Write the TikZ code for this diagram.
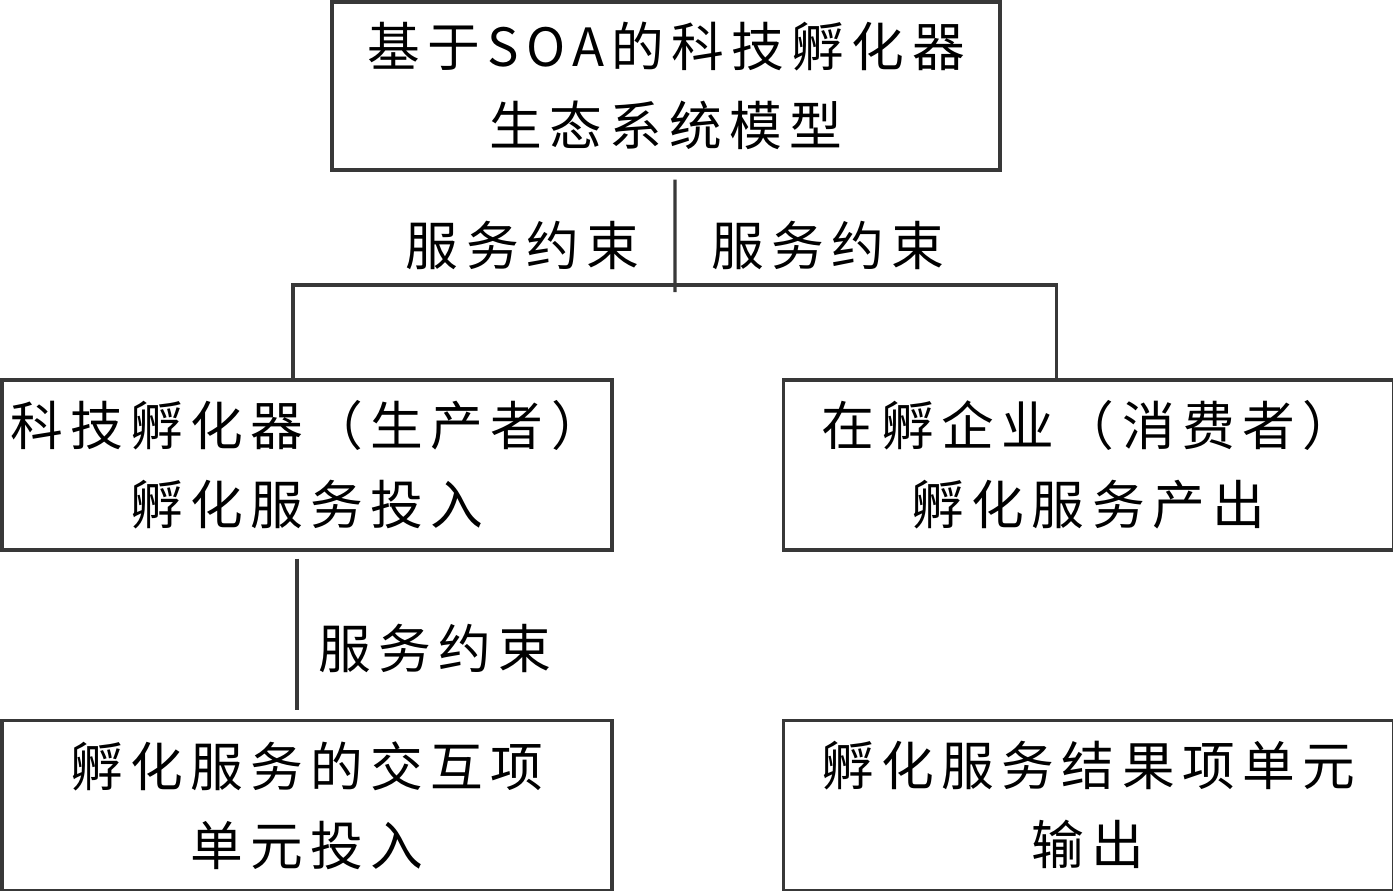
\documentclass[tikz,border=0pt]{standalone}
\usepackage{fontspec}
\newfontfamily\cjk[LetterSpace=14]{Noto Sans CJK SC}
\usepackage{tikz}
\usetikzlibrary{positioning}

\begin{document}
\begin{tikzpicture}[
        unit/.style={draw=black!78, line width=1.9pt, minimum width=12.2cm, minimum height=3.4cm, align=center, inner sep=0pt},
        link/.style={draw=black!78, line width=1.9pt},
        tag/.style={inner sep=0pt},
        font=\cjk\fontsize{30}{45}\selectfont
    ]
    \useasboundingbox (0,0) rectangle (27.86,-17.8);

    % Top: ecosystem model
    \node[unit, minimum width=13.36cm, minimum height=3.36cm] (model) at (13.32,-1.72) {基于SOA的科技孵化器\\生态系统模型};

    % Middle row: producer and consumer
    \node[unit] (producer) at (6.14,-9.3) {科技孵化器（生产者）\\孵化服务投入};
    \node[unit, right=3.36cm of producer] (consumer) {在孵企业（消费者）\\孵化服务产出};

    % Bottom row: unit input and output
    \node[unit, below=3.34cm of producer] (unitin) {孵化服务的交互项\\单元投入};
    \node[unit, below=3.34cm of consumer] (unitout) {孵化服务结果项单元\\输出};

    % Connectors
    \coordinate (junction) at (13.5,-5.7);
    \draw[link] ([xshift=0.18cm,yshift=-0.16cm]model.south) -- ([yshift=-0.14cm]junction);
    \draw[link] ([xshift=-0.28cm]producer.north) |- (junction) -| ([xshift=-0.64cm]consumer.north);
    \draw[link] ([xshift=-0.2cm,yshift=-0.14cm]producer.south) -- ([xshift=-0.2cm,yshift=0.18cm]unitin.north);

    % Constraint labels
    \node[tag] (cleft) at (10.45,-4.9) {服务约束};
    \node[tag] (cright) at (16.55,-4.9) {服务约束};
    \node[tag] (clow) at (8.7,-12.96) {服务约束};

\end{tikzpicture}
\end{document}
